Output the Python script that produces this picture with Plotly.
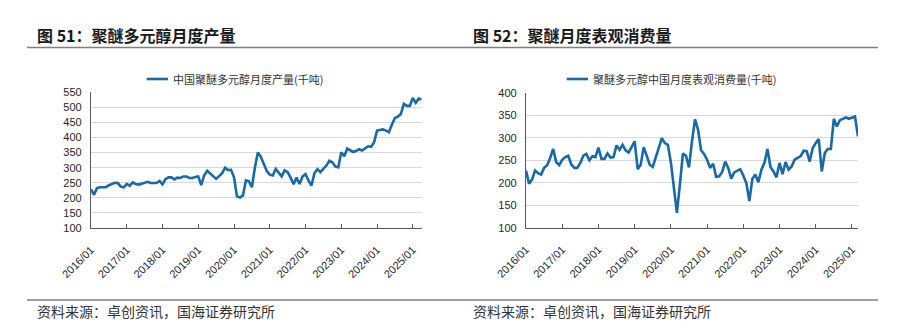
import plotly.graph_objects as go

# Monthly series, 2016/01 onward (thousand tonnes)
output_kt = [
    228, 210, 232, 235, 235, 235, 242, 246, 250, 249, 237, 235,
    246, 240, 251, 246, 244, 247, 250, 253, 249, 249, 249, 256,
    245, 262, 268, 268, 261, 267, 266, 271, 271, 266, 266, 269,
    271, 242, 275, 290, 282, 272, 263, 272, 282, 300, 292, 293,
    268, 205, 201, 208, 258, 255, 235, 300, 350, 336, 315, 289,
    277, 274, 296, 284, 271, 291, 285, 267, 245, 267, 246, 271,
    279, 257, 241, 282, 295, 285, 296, 307, 323, 318, 304, 301,
    351, 338, 363, 356, 352, 356, 361, 357, 365, 371, 369, 384,
    423, 425, 427, 423, 418, 443, 465, 469, 478, 512, 505, 505,
    531, 515, 529, 526,
]
consumption_kt = [
    227, 198, 207, 227, 221, 218, 233, 239, 255, 275, 246, 239,
    251, 257, 260, 241, 233, 233, 244, 260, 264, 250, 259, 257,
    278, 253, 253, 265, 256, 257, 283, 273, 284, 272, 267, 281,
    292, 230, 240, 279, 259, 240, 235, 255, 275, 299, 288, 284,
    245, 190, 133, 197, 265, 260, 234, 292, 341, 318, 272, 264,
    251, 233, 242, 213, 214, 224, 247, 233, 209, 223, 227, 230,
    216, 199, 159, 209, 218, 201, 229, 244, 275, 235, 225, 212,
    244, 219, 246, 229, 236, 251, 255, 259, 271, 270, 247, 277,
    288, 297, 225, 266, 275, 275, 342, 325, 339, 342, 345, 342,
    345, 347, 303,
]
year_ticks = ["2016/01", "2017/01", "2018/01", "2019/01", "2020/01",
              "2021/01", "2022/01", "2023/01", "2024/01", "2025/01"]
tick_months = [12 * i for i in range(len(year_ticks))]

left_title = "图 51：聚醚多元醇月度产量"
right_title = "图 52：聚醚月度表观消费量"
left_name = "中国聚醚多元醇月度产量(千吨)"
right_name = "聚醚多元醇中国月度表观消费量(千吨)"
source_note = "资料来源：卓创资讯，国海证券研究所"

W, H = 904, 333
LINE = "#1769a8"
AXIS = "#595959"
GRID = "#d9d9d9"
CJK = "Noto Sans CJK SC"
LAT = "Liberation Sans"


def px(x):
    return x / W


def py(y):
    return 1 - y / H


fig = go.Figure()
fig.add_trace(go.Scatter(x=list(range(len(output_kt))), y=output_kt, mode="lines",
                         line=dict(color=LINE, width=2.6), name=left_name,
                         xaxis="x", yaxis="y", showlegend=False))
fig.add_trace(go.Scatter(x=list(range(len(consumption_kt))), y=consumption_kt, mode="lines",
                         line=dict(color=LINE, width=2.6), name=right_name,
                         xaxis="x2", yaxis="y2", showlegend=False))

xcommon = dict(tickmode="array", tickvals=tick_months, ticktext=year_ticks,
               tickangle=-45, ticks="inside", ticklen=4, tickcolor=AXIS, tickwidth=1,
               showline=True, linecolor=AXIS, linewidth=1.3, showgrid=False,
               zeroline=False, automargin=False, ticklabelstandoff=10,
               tickfont=dict(family=LAT, size=11, color="#262626"))
ycommon = dict(showline=True, linecolor=AXIS, linewidth=1.3, showgrid=True,
               gridcolor=GRID, gridwidth=1, zeroline=False, ticks="",
               ticklabelstandoff=6, automargin=False,
               tickfont=dict(family=LAT, size=11, color="#262626"))

fig.update_layout(
    width=W, height=H, autosize=False,
    margin=dict(l=0, r=0, t=0, b=0, pad=0, autoexpand=False),
    paper_bgcolor="white", plot_bgcolor="white",
    xaxis=dict(domain=[px(91), px(421.7)], range=[0, len(output_kt) - 1],
               anchor="y", **xcommon),
    yaxis=dict(domain=[py(228), py(92.3)], range=[100, 550], dtick=50,
               anchor="x", **ycommon),
    xaxis2=dict(domain=[px(526), px(858)], range=[0, len(consumption_kt) - 1],
                anchor="y2", **xcommon),
    yaxis2=dict(domain=[py(227.7), py(92.7)], range=[100, 400], dtick=50,
                anchor="x2", **ycommon),
)

shapes = [
    # rules under the headings and above the source notes
    dict(type="line", xref="paper", yref="paper", x0=px(27), x1=px(878),
         y0=py(47.5), y1=py(47.5), line=dict(color="#7f7f7f", width=1.5)),
    dict(type="line", xref="paper", yref="paper", x0=px(27), x1=px(878),
         y0=py(300), y1=py(300), line=dict(color="#7f7f7f", width=1.5)),
    # legend keys
    dict(type="line", xref="paper", yref="paper", x0=px(146.7), x1=px(168),
         y0=py(79), y1=py(79), line=dict(color=LINE, width=2.6)),
    dict(type="line", xref="paper", yref="paper", x0=px(566.7), x1=px(588),
         y0=py(79), y1=py(79), line=dict(color=LINE, width=2.6)),
]
fig.update_layout(shapes=shapes)

annotations = [
    dict(text="<b>" + left_title + "</b>", x=px(36), y=py(35),
         font=dict(family=CJK, size=16, color="#1a1a1a")),
    dict(text="<b>" + right_title + "</b>", x=px(472), y=py(35),
         font=dict(family=CJK, size=16, color="#1a1a1a")),
    dict(text=left_name, x=px(171.5), y=py(79),
         font=dict(family=CJK, size=11, color="#333333")),
    dict(text=right_name, x=px(591.5), y=py(79),
         font=dict(family=CJK, size=11, color="#333333")),
    dict(text=source_note, x=px(36), y=py(310.5),
         font=dict(family=CJK, size=14, color="#333333")),
    dict(text=source_note, x=px(472), y=py(310.5),
         font=dict(family=CJK, size=14, color="#333333")),
]
for a in annotations:
    a.update(xref="paper", yref="paper", xanchor="left", yanchor="middle",
             showarrow=False, borderpad=0)
fig.update_layout(annotations=annotations)

fig.write_html("out.html")
